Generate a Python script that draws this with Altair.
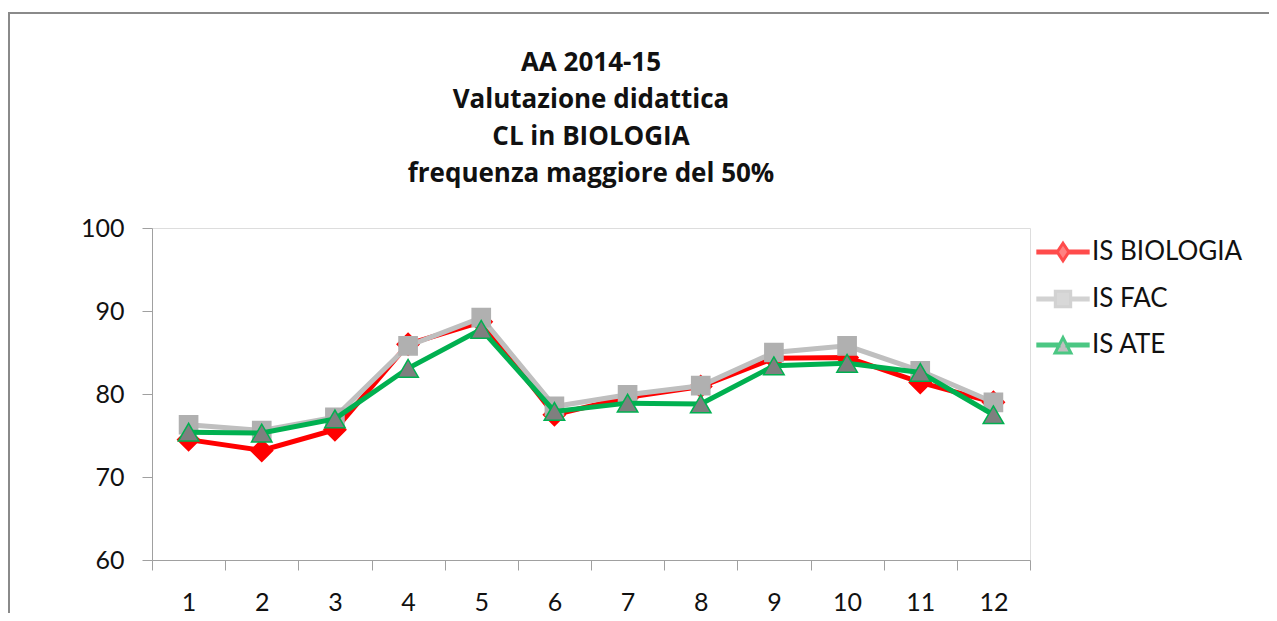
import altair as alt
import pandas as pd

categories = list(range(1, 13))
is_biologia = [74.5, 73.2, 75.7, 86.0, 88.7, 77.5, 79.6, 80.9, 84.3, 84.4, 81.4, 79.0]
is_fac = [76.3, 75.6, 77.2, 85.8, 89.2, 78.5, 79.9, 81.0, 85.0, 85.8, 82.8, 79.0]
is_ate = [75.4, 75.3, 77.0, 83.1, 87.8, 77.9, 78.9, 78.8, 83.4, 83.7, 82.6, 77.5]

series_names = ["IS BIOLOGIA", "IS FAC", "IS ATE"]
line_colors = ["#ff0000", "#bfbfbf", "#00b050"]
marker_fill = ["#ff0000", "#b0b0b0", "#7f7f7f"]
marker_stroke = ["#ff0000", "#b0b0b0", "#00b050"]
marker_shapes = ["diamond", "square", "triangle-up"]
marker_sizes = [480, 330, 420]
y_ticks = [60, 70, 80, 90, 100]
x_bounds = [0.5 + i for i in range(13)]
title_lines = ["AA 2014-15", "Valutazione didattica", "CL in BIOLOGIA", "frequenza maggiore del 50%"]

# legend glyphs: line segment + marker, in the -1..1 symbol box
legend_glyphs = [
    "M-0.95,-0.04L-0.2,-0.04L-0.2,0.04L-0.95,0.04Z M0.2,-0.04L0.95,-0.04L0.95,0.04L0.2,0.04Z M0,-0.33L0.22,0L0,0.33L-0.22,0Z",
    "M-0.95,-0.04L-0.29,-0.04L-0.29,0.04L-0.95,0.04Z M0.29,-0.04L0.95,-0.04L0.95,0.04L0.29,0.04Z M-0.29,-0.29L0.29,-0.29L0.29,0.29L-0.29,0.29Z",
    "M-0.95,-0.04L-0.15,-0.04L-0.15,0.04L-0.95,0.04Z M0.15,-0.04L0.95,-0.04L0.95,0.04L0.15,0.04Z M0,-0.28L0.3,0.3L-0.3,0.3Z",
]
legend_fill = ["#ff0000", "#b0b0b0", "#7f7f7f"]
legend_stroke = ["#ff0000", "#bfbfbf", "#00b050"]

rows = []
for name, vals in zip(series_names, [is_biologia, is_fac, is_ate]):
    for c, v in zip(categories, vals):
        rows.append({"cat": c, "value": v, "series": name})
df = pd.DataFrame(rows)

W, H = 878, 332
PL, PT = 144, 220
TOTAL_W, TOTAL_H = 1261, 605
FONT = "Lato"
AXIS_GRAY = "#a0a0a0"
TEXT = "#111111"

x_enc = alt.X(
    "cat:Q",
    scale=alt.Scale(domain=[0.5, 12.5], nice=False, zero=False),
    axis=alt.Axis(
        values=x_bounds,
        labelExpr="datum.value < 12 ? format(datum.value + 0.5, 'd') : ''",
        labelOffset=W / 24,
        labelFlush=False,
        labelOverlap=False,
        labelBound=False,
        grid=False,
        title=None,
        tickSize=10,
        tickColor=AXIS_GRAY,
        domainColor=AXIS_GRAY,
        labelFont=FONT,
        labelFontSize=25,
        labelColor=TEXT,
        labelPadding=20,
    ),
)
y_enc = alt.Y(
    "value:Q",
    scale=alt.Scale(domain=[60, 100], nice=False, zero=False),
    axis=alt.Axis(
        values=y_ticks,
        grid=False,
        title=None,
        tickSize=10,
        tickColor=AXIS_GRAY,
        domainColor=AXIS_GRAY,
        labelFont=FONT,
        labelFontSize=25,
        labelColor=TEXT,
        labelPadding=18,
    ),
)

legend = alt.Legend(
    title=None,
    orient="none",
    legendX=883,
    legendY=-4,
    symbolSize=2809,
    symbolStrokeWidth=3,
    labelFont=FONT,
    labelFontSize=26,
    labelColor=TEXT,
    labelOffset=1,
    rowPadding=4,
)

base = alt.Chart(df)

frame = alt.Chart(pd.DataFrame({"a": [0]})).mark_rect(
    fillOpacity=0, stroke="#8a8a8a", strokeWidth=2, clip=False
).encode(
    x=alt.value(-143), x2=alt.value(TOTAL_W - PL + 40),
    y=alt.value(-215), y2=alt.value(TOTAL_H - PT + 40),
)

layers = [frame]
for name, lcol, mfill, mstroke, mshape, msize in zip(
    series_names, line_colors, marker_fill, marker_stroke, marker_shapes, marker_sizes
):
    sub = base.transform_filter(alt.datum.series == name)
    line = sub.mark_line(strokeWidth=5, color=lcol).encode(x=x_enc, y=y_enc)
    pts = sub.mark_point(filled=True, opacity=1, strokeWidth=1.5).encode(
        x=x_enc, y=y_enc,
        fill=alt.value(mfill),
        stroke=alt.value(mstroke),
        shape=alt.value(mshape),
        size=alt.value(msize),
    )
    layers += [line, pts]

# legend-only layer (no marks drawn, legend built from the scales)
legend_layer = base.transform_filter("false").mark_point(filled=True).encode(
    fill=alt.Fill("series:N", scale=alt.Scale(domain=series_names, range=legend_fill), legend=legend),
    stroke=alt.Stroke("series:N", scale=alt.Scale(domain=series_names, range=legend_stroke), legend=legend),
    shape=alt.Shape("series:N", scale=alt.Scale(domain=series_names, range=legend_glyphs), legend=legend),
)
layers.append(legend_layer)

chart = alt.layer(*layers).properties(
    width=W,
    height=H,
    padding={"left": PL, "top": PT, "right": TOTAL_W - PL - W, "bottom": TOTAL_H - PT - H},
    autosize=alt.AutoSizeParams(type="none"),
    title=alt.TitleParams(
        text=title_lines,
        font="Open Sans",
        fontSize=26,
        fontWeight="bold",
        lineHeight=37,
        anchor="middle",
        frame="group",
        offset=-175,
        color=TEXT,
    ),
).configure_view(strokeWidth=0).configure(background="white")

chart.save("out.html", embed_options={"renderer": "svg", "actions": False})
